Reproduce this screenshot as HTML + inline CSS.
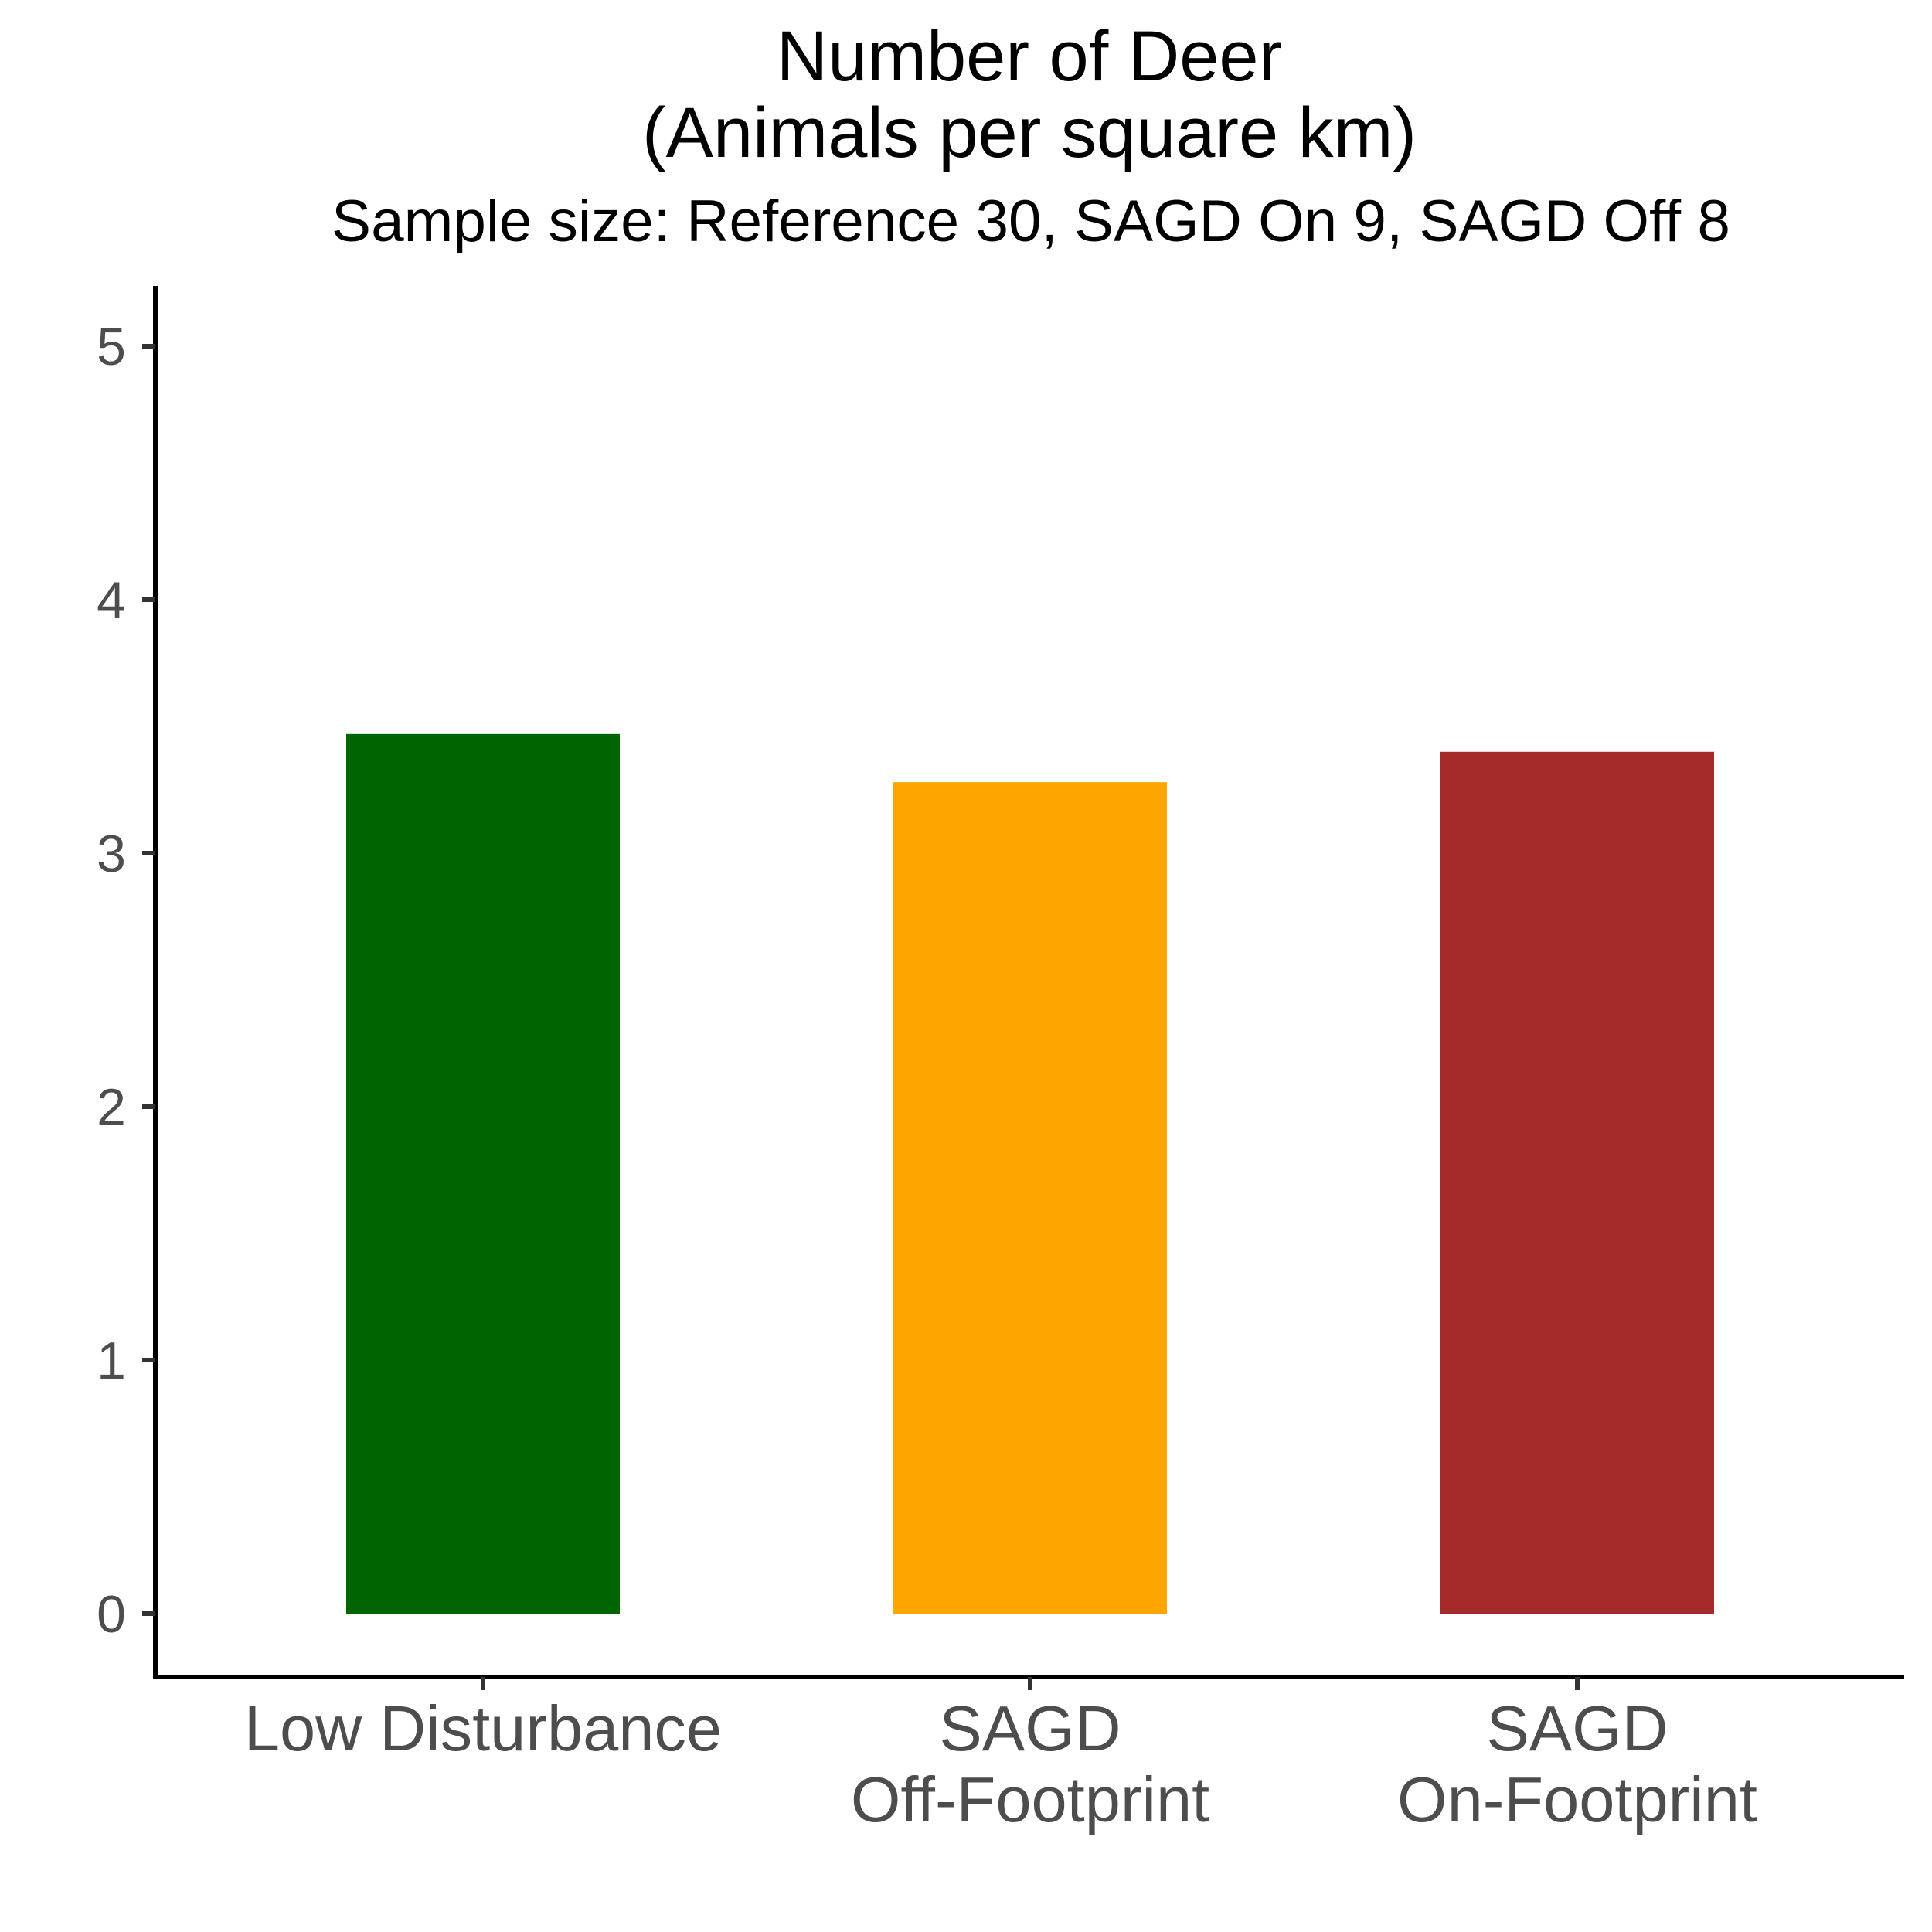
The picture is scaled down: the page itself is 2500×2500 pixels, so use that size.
<!DOCTYPE html>
<html><head><meta charset="utf-8"><style>
html,body{margin:0;padding:0;background:#fff;}
svg{display:block;font-family:"Liberation Sans",Arial,sans-serif;}
</style></head><body>
<svg id="chart" width="2500" height="2500" viewBox="0 0 2500 2500" xmlns="http://www.w3.org/2000/svg">
<rect width="2500" height="2500" fill="#fff"/>
<text x="1332" y="104" font-size="92" text-anchor="middle" fill="#000">Number of Deer</text>
<text x="1332" y="203" font-size="92" text-anchor="middle" fill="#000">(Animals per square km)</text>
<text x="1334" y="312" font-size="76.5" text-anchor="middle" fill="#000">Sample size: Reference 30, SAGD On 9, SAGD Off 8</text>
<g id="bars"></g>
<g id="yaxis"></g>
<g id="xaxis"></g>
</svg>
<script>
const categories = [["Low Disturbance"], ["SAGD", "Off-Footprint"], ["SAGD", "On-Footprint"]];
const values = [3.47, 3.28, 3.40];
const colors = ["#006400", "#FFA500", "#A52A2A"];
const yTicks = [0, 1, 2, 3, 4, 5];

const NS = "http://www.w3.org/2000/svg";
const axisX = 201, axisY = 2170, axisTop = 370, axisRight = 2464;
const y0 = 2088, perUnit = 328;
const bandStart = 271, band = 708, barFrac = 0.5;
function yScale(v){ return y0 - v * perUnit; }
function xCenter(i){ return bandStart + band * (i + 0.5); }
function mk(tag, attrs){ const e = document.createElementNS(NS, tag); for (const k in attrs) e.setAttribute(k, attrs[k]); return e; }

const bars = document.getElementById('bars');
values.forEach((v, i) => {
  const w = band * barFrac;
  const r = mk('rect', {x: xCenter(i) - w/2, y: yScale(v), width: w, height: yScale(0) - yScale(v), fill: colors[i]});
  
  
  bars.appendChild(r);
});

const ya = document.getElementById('yaxis');
const yl = mk('line', {x1: axisX, y1: axisTop, x2: axisX, y2: axisY + 3, stroke: '#000', 'stroke-width': 6});


ya.appendChild(yl);
yTicks.forEach(t => {
  const yy = yScale(t);
  const tk = mk('line', {x1: axisX - 17, y1: yy, x2: axisX, y2: yy, stroke: '#333', 'stroke-width': 6});
  
  
  ya.appendChild(tk);
  const tx = mk('text', {x: 163, y: yy + 24, 'font-size': 68, 'text-anchor': 'end', fill: '#4d4d4d'});
  tx.textContent = t;
  
  
  ya.appendChild(tx);
});

const xa = document.getElementById('xaxis');
const xl = mk('line', {x1: axisX - 3, y1: axisY, x2: axisRight, y2: axisY, stroke: '#000', 'stroke-width': 6});


xa.appendChild(xl);
categories.forEach((c, i) => {
  const cx = xCenter(i);
  const tk = mk('line', {x1: cx, y1: axisY, x2: cx, y2: axisY + 17, stroke: '#333', 'stroke-width': 6});
  
  
  xa.appendChild(tk);
  c.forEach((line, j) => {
    const tx = mk('text', {x: cx, y: 2265 + j * 92, 'font-size': 83, 'text-anchor': 'middle', fill: '#4d4d4d'});
    tx.textContent = line;
    
    
    xa.appendChild(tx);
  });
});
</script>
</body></html>
